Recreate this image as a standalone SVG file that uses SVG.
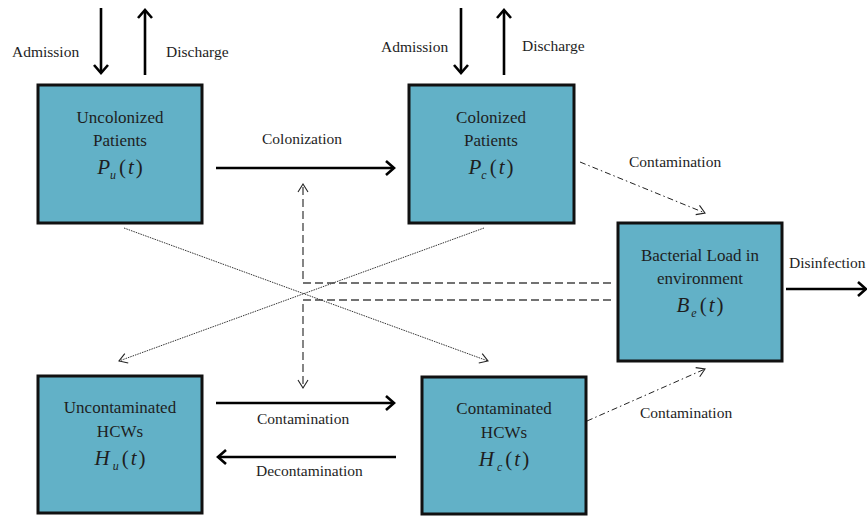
<svg xmlns="http://www.w3.org/2000/svg" width="867" height="517" viewBox="0 0 867 517">
<style>
.box{fill:#62b1c7;stroke:#111;stroke-width:3}
.nt{font-size:17px;fill:#1e1e1e;text-anchor:middle}
.mt{font-size:21px;fill:#1e1e1e;text-anchor:middle}
.it{font-style:italic}
.lb{font-size:15.5px;fill:#1e1e1e}
.solid{stroke:#000;stroke-width:2.6;fill:none}
.dash{stroke:#444;stroke-width:1.3;stroke-dasharray:8 4;fill:none}
.dot{stroke:#333;stroke-width:1;stroke-dasharray:1.5 1;fill:none}
.dd{stroke:#222;stroke-width:1;stroke-dasharray:6 3 1.5 3;fill:none}
</style>
<defs>
<marker id="ah" markerUnits="userSpaceOnUse" markerWidth="20" markerHeight="20" refX="11" refY="10" orient="auto" viewBox="0 0 20 20"><path d="M3,3 L11,10 L3,17" fill="none" stroke="#000" stroke-width="2.6"/></marker>
<marker id="ahl" markerUnits="userSpaceOnUse" markerWidth="20" markerHeight="20" refX="10" refY="10" orient="auto" viewBox="0 0 20 20"><path d="M2,5 L10,10 L2,15" fill="none" stroke="#222" stroke-width="1.1"/></marker>
</defs>

<g id="connectors">
<line class="solid" x1="101" y1="8" x2="101" y2="73" marker-end="url(#ah)"/>
<line class="solid" x1="145" y1="75" x2="145" y2="10" marker-end="url(#ah)"/>
<line class="solid" x1="461" y1="8" x2="461" y2="73" marker-end="url(#ah)"/>
<line class="solid" x1="504" y1="75" x2="504" y2="10" marker-end="url(#ah)"/>
<line class="solid" x1="216" y1="168" x2="394" y2="168" marker-end="url(#ah)"/>
<line class="solid" x1="786" y1="289" x2="866" y2="289" marker-end="url(#ah)"/>
<line class="solid" x1="216" y1="403" x2="394" y2="403" marker-end="url(#ah)"/>
<line class="solid" x1="396" y1="457" x2="218" y2="457" marker-end="url(#ah)"/>
<line class="dd" x1="580" y1="162" x2="705" y2="213" marker-end="url(#ahl)"/>
<line class="dd" x1="587" y1="421" x2="705" y2="369" marker-end="url(#ahl)"/>
<line class="dot" x1="124" y1="228" x2="488" y2="361" marker-end="url(#ahl)"/>
<line class="dot" x1="484" y1="228" x2="119" y2="361" marker-end="url(#ahl)"/>
<polyline class="dash" points="611,283 303,283 303,184" marker-end="url(#ahl)"/>
<polyline class="dash" points="611,300 303,300 303,388" marker-end="url(#ahl)"/>
<g font-family="Liberation Serif, DejaVu Serif, serif">
<text class="lb" font-family="Liberation Serif, DejaVu Serif, serif" x="12" y="57">Admission</text>
<text class="lb" font-family="Liberation Serif, DejaVu Serif, serif" x="166" y="57">Discharge</text>
<text class="lb" font-family="Liberation Serif, DejaVu Serif, serif" x="381" y="52">Admission</text>
<text class="lb" font-family="Liberation Serif, DejaVu Serif, serif" x="522" y="51">Discharge</text>
<text class="lb" font-family="Liberation Serif, DejaVu Serif, serif" x="262" y="144">Colonization</text>
<text class="lb" font-family="Liberation Serif, DejaVu Serif, serif" x="629" y="167">Contamination</text>
<text class="lb" font-family="Liberation Serif, DejaVu Serif, serif" x="789" y="268">Disinfection</text>
<text class="lb" font-family="Liberation Serif, DejaVu Serif, serif" x="257" y="424">Contamination</text>
<text class="lb" font-family="Liberation Serif, DejaVu Serif, serif" x="256" y="476">Decontamination</text>
<text class="lb" font-family="Liberation Serif, DejaVu Serif, serif" x="640" y="418">Contamination</text>
</g>
</g>

<g id="uncolonized" font-family="Liberation Serif, DejaVu Serif, serif">
<rect class="box" x="38" y="85" width="164" height="138"/>
<text class="nt" font-family="Liberation Serif, DejaVu Serif, serif" x="120" y="123">Uncolonized</text>
<text class="nt" font-family="Liberation Serif, DejaVu Serif, serif" x="120" y="146">Patients</text>
<text class="mt" font-family="Liberation Serif, DejaVu Serif, serif" x="120" y="174"><tspan class="it">P</tspan><tspan class="it" font-size="12" dy="5">u</tspan><tspan dy="-5" dx="3">(</tspan><tspan class="it" dx="2">t</tspan><tspan dx="2">)</tspan></text>
</g>

<g id="colonized" font-family="Liberation Serif, DejaVu Serif, serif">
<rect class="box" x="409" y="85" width="165" height="138"/>
<text class="nt" font-family="Liberation Serif, DejaVu Serif, serif" x="491" y="123">Colonized</text>
<text class="nt" font-family="Liberation Serif, DejaVu Serif, serif" x="491" y="146">Patients</text>
<text class="mt" font-family="Liberation Serif, DejaVu Serif, serif" x="491" y="174"><tspan class="it">P</tspan><tspan class="it" font-size="12" dy="5">c</tspan><tspan dy="-5" dx="3">(</tspan><tspan class="it" dx="2">t</tspan><tspan dx="2">)</tspan></text>
</g>

<g id="bacterial" font-family="Liberation Serif, DejaVu Serif, serif">
<rect class="box" x="618" y="223" width="164" height="138"/>
<text class="nt" font-family="Liberation Serif, DejaVu Serif, serif" x="700" y="261">Bacterial Load in</text>
<text class="nt" font-family="Liberation Serif, DejaVu Serif, serif" x="700" y="284">environment</text>
<text class="mt" font-family="Liberation Serif, DejaVu Serif, serif" x="700" y="312"><tspan class="it">B</tspan><tspan class="it" font-size="12" dy="5" dx="2">e</tspan><tspan dy="-5" dx="3">(</tspan><tspan class="it" dx="2">t</tspan><tspan dx="2">)</tspan></text>
</g>

<g id="uncontaminated" font-family="Liberation Serif, DejaVu Serif, serif">
<rect class="box" x="38" y="376" width="164" height="137"/>
<text class="nt" font-family="Liberation Serif, DejaVu Serif, serif" x="120" y="413">Uncontaminated</text>
<text class="nt" font-family="Liberation Serif, DejaVu Serif, serif" x="120" y="437">HCWs</text>
<text class="mt" font-family="Liberation Serif, DejaVu Serif, serif" x="120" y="465"><tspan class="it">H</tspan><tspan class="it" font-size="12" dy="5" dx="3">u</tspan><tspan dy="-5" dx="3">(</tspan><tspan class="it" dx="2">t</tspan><tspan dx="2">)</tspan></text>
</g>

<g id="contaminated" font-family="Liberation Serif, DejaVu Serif, serif">
<rect class="box" x="422" y="377" width="164" height="137"/>
<text class="nt" font-family="Liberation Serif, DejaVu Serif, serif" x="504" y="414">Contaminated</text>
<text class="nt" font-family="Liberation Serif, DejaVu Serif, serif" x="504" y="438">HCWs</text>
<text class="mt" font-family="Liberation Serif, DejaVu Serif, serif" x="504" y="466"><tspan class="it">H</tspan><tspan class="it" font-size="12" dy="5" dx="3">c</tspan><tspan dy="-5" dx="3">(</tspan><tspan class="it" dx="2">t</tspan><tspan dx="2">)</tspan></text>
</g>
</svg>
